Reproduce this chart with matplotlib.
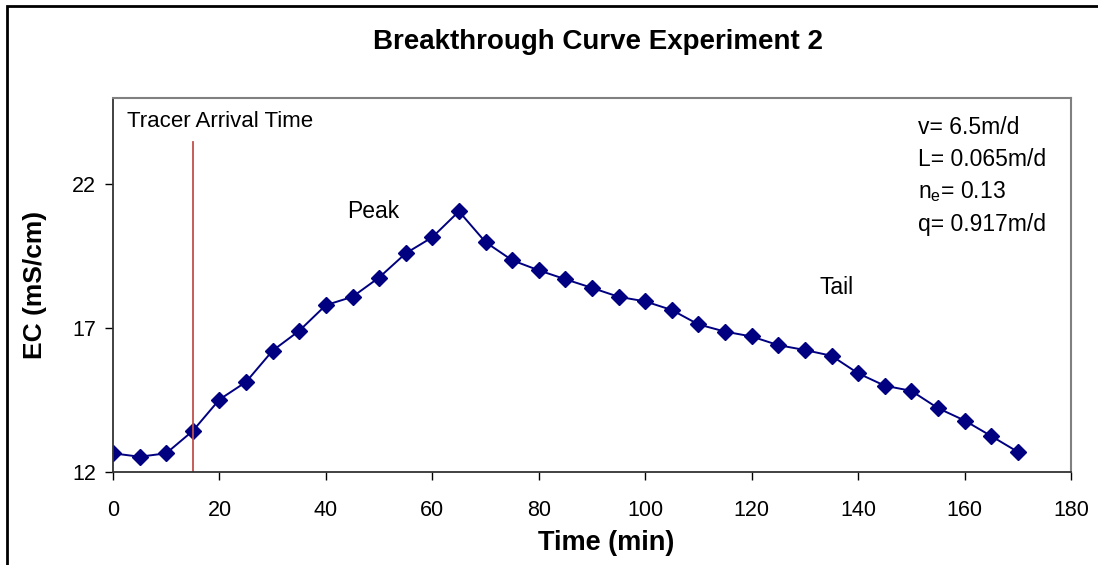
import matplotlib.pyplot as plt
from matplotlib.patches import Rectangle

plt.rcParams['font.family'] = ['Liberation Sans', 'DejaVu Sans']

# Données
time_min = [0, 5, 10, 15, 20, 25, 30, 35, 40, 45, 50, 55, 60, 65, 70, 75, 80, 85,
            90, 95, 100, 105, 110, 115, 120, 125, 130, 135, 140, 145, 150, 155,
            160, 165, 170]
ec = [12.65, 12.53, 12.65, 13.43, 14.52, 15.13, 16.22, 16.91, 17.80, 18.09,
      18.76, 19.60, 20.16, 21.06, 19.99, 19.36, 19.01, 18.70, 18.40, 18.09,
      17.93, 17.63, 17.13, 16.88, 16.71, 16.41, 16.24, 16.04, 15.43, 15.00,
      14.82, 14.22, 13.79, 13.25, 12.70]
arrival_time = 15
arrival_top = 23.47
x_ticks = [0, 20, 40, 60, 80, 100, 120, 140, 160, 180]
y_ticks = [12, 17, 22]
params = ['v= 6.5m/d', 'L= 0.065m/d', 'n$_{\\mathregular{e}}$= 0.13', 'q= 0.917m/d']

fig = plt.figure(figsize=(10.98, 5.65), dpi=100)
ax = fig.add_axes([113 / 1098, 1 - 472 / 565, (1071 - 113) / 1098, (472 - 98) / 565])

# Cadre extérieur (coupé à droite et en bas)
fig.patches.append(Rectangle((7 / 1098, -0.1), 1.2, 1 - 6 / 565 + 0.1,
                             transform=fig.transFigure, fill=False,
                             edgecolor='black', linewidth=2))

ax.plot(time_min, ec, color='#000080', marker='D', markersize=8, linewidth=1.4)
ax.plot([arrival_time, arrival_time], [12, arrival_top], color='#c0504d', linewidth=1.3)

ax.set_xlim(0, 180)
ax.set_ylim(12, 25)
ax.set_xticks(x_ticks)
ax.set_yticks(y_ticks)
ax.tick_params(labelsize=15.5, direction='out', length=6, width=1)
ax.tick_params(axis='x', pad=14)
ax.tick_params(axis='y', pad=6)

for side in ['top', 'right']:
    ax.spines[side].set_color('#808080')
    ax.spines[side].set_linewidth(1.5)
for side in ['left', 'bottom']:
    ax.spines[side].set_color('#333333')
    ax.spines[side].set_linewidth(1.3)

ax.set_xlabel('Time (min)', fontsize=19.5, fontweight='bold')
ax.xaxis.set_label_coords(0.515, -0.155)
ax.set_ylabel('EC (mS/cm)', fontsize=19, fontweight='bold', labelpad=18)
fig.text(598 / 1098, 1 - 42 / 565, 'Breakthrough Curve Experiment 2',
         fontsize=20, fontweight='bold', ha='center', va='center')

ax.text(2.6, 24.2, 'Tracer Arrival Time', fontsize=16, va='center')
ax.text(44, 21.04, 'Peak', fontsize=16.5, va='center')
ax.text(132.8, 18.43, 'Tail', fontsize=16.5, va='center')
for i, p in enumerate(params):
    fig.text(918 / 1098, 1 - (127 + 32.5 * i) / 565, p, fontsize=16.5, va='center')

fig.savefig('out.png', dpi=100)
